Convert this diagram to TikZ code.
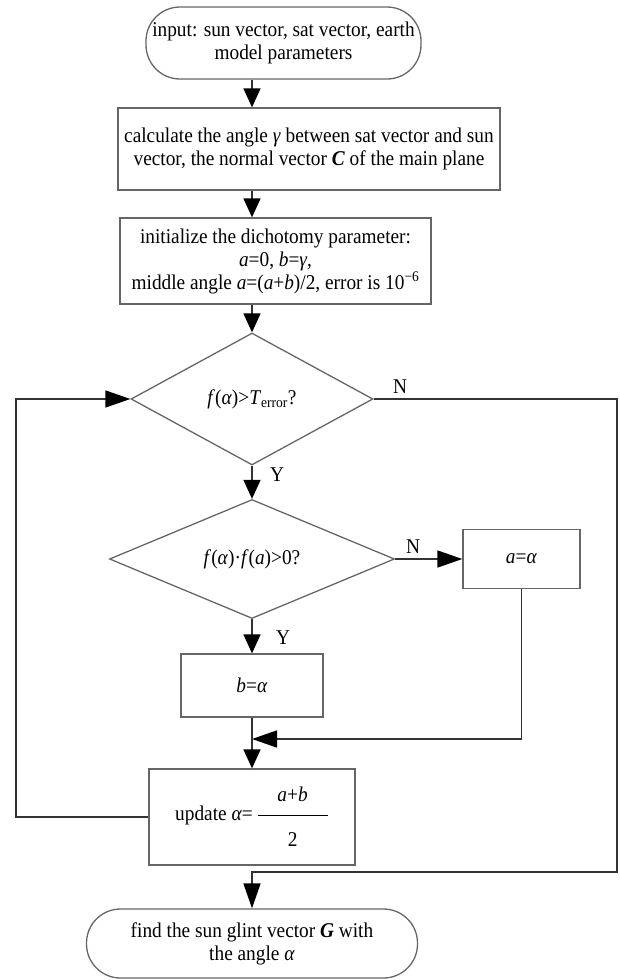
\documentclass[tikz,border=0pt]{standalone}
\usepackage{fontspec}
\setmainfont[FakeStretch=0.92]{Liberation Serif}
\usepackage{amsmath}
\usetikzlibrary{shapes.geometric,arrows.meta}
\begin{document}
\begin{tikzpicture}[x=1pt,y=-1pt,
  every node/.style={font=\fontsize{21}{23}\selectfont, inner sep=0pt},
  box/.style={draw=black!60, line width=1.3pt, rectangle, align=center},
  term/.style={box, rounded corners=34pt},
  dec/.style={draw=black!60, line width=1.3pt, diamond, align=center},
  conn/.style={draw=black!80, line width=1.6pt, -{Triangle[length=19pt,width=17pt,color=black]}},
  connl/.style={draw=black!80, line width=1.6pt, -{Triangle[length=25pt,width=17pt,color=black]}},
  lbl/.style={font=\fontsize{21}{23}\selectfont}
]
\useasboundingbox (0,0) rectangle (620,980);

\node[term, minimum width=275pt, minimum height=72pt] (start) at (283.5,43)
  {input: sun vector, sat vector, earth\\model parameters};
\node[box, minimum width=382pt, minimum height=82pt] (calc) at (309,149)
  {calculate the angle \textit{γ} between sat vector and sun\\vector, the normal vector \textbf{\textit{C}} of the main plane};
\node[box, minimum width=311pt, minimum height=86pt] (init) at (275.5,261)
  {initialize the dichotomy parameter:\\\textit{a}=0, \textit{b}=\textit{γ},\\middle angle \textit{a}=(\textit{a}+\textit{b})/2, error is 10\textsuperscript{−6}};
\node[dec, minimum width=242pt, minimum height=132pt, shape aspect=1.83] (d1) at (252,399)
  {\textit{f}(\textit{α})>\textit{T}\textsubscript{error}?};
\node[dec, minimum width=285pt, minimum height=119pt, shape aspect=2.4] (d2) at (252,559)
  {\textit{f}(\textit{α})·\textit{f}(\textit{a})>0?};
\node[box, minimum width=117pt, minimum height=59pt] (abox) at (521.5,559)
  {\textit{a}=\textit{α}};
\node[box, minimum width=142pt, minimum height=63pt] (bbox) at (252,685.5)
  {\textit{b}=\textit{α}};
\node[box, minimum width=206pt, minimum height=96pt] (upd) at (252,817)
  {update \textit{α}=\,$\displaystyle\genfrac{}{}{1pt}{}{\makebox[70pt]{\rule[-10pt]{0pt}{10pt}\textit{a}+\textit{b}}}{\makebox[70pt]{\rule{0pt}{28pt}2}}$};
\node[term, minimum width=331pt, minimum height=69pt] (end) at (252,943.5)
  {find the sun glint vector \textbf{\textit{G}} with\\the angle \textit{α}};

\coordinate (rc) at (617,0);
\coordinate (lc) at (16,0);
\coordinate (mg) at (0,739);
\coordinate (bl) at (0,872);

\draw[conn] (start.south -| d1.north) -- (calc.north -| d1.north);
\draw[conn] (calc.south -| d1.north) -- (init.north -| d1.north);
\draw[conn] (init.south -| d1.north) -- (d1.north);
\draw[conn] (d1.south) -- (d2.north);
\draw[conn] (d2.south) -- (bbox.north);
\draw[connl] (d2.east) -- (abox.west);
\draw[connl] (abox.south) -- (abox.south |- mg) -- (mg -| bbox.south);
\draw[conn] (bbox.south) -- (upd.north);
\draw[connl] (upd.west) -- (upd.west -| lc) -- (d1.west -| lc) -- (d1.west);
\draw[connl] (d1.east) -- (d1.east -| rc) -- (bl -| rc) -- (bl -| end.north) -- (end.north);

\node[lbl] (n1) at (400,387) {N};
\node[lbl] (y1) at (277,475) {Y};
\node[lbl] (n2) at (413,547) {N};
\node[lbl] (y2) at (283,638) {Y};
\end{tikzpicture}
\end{document}
